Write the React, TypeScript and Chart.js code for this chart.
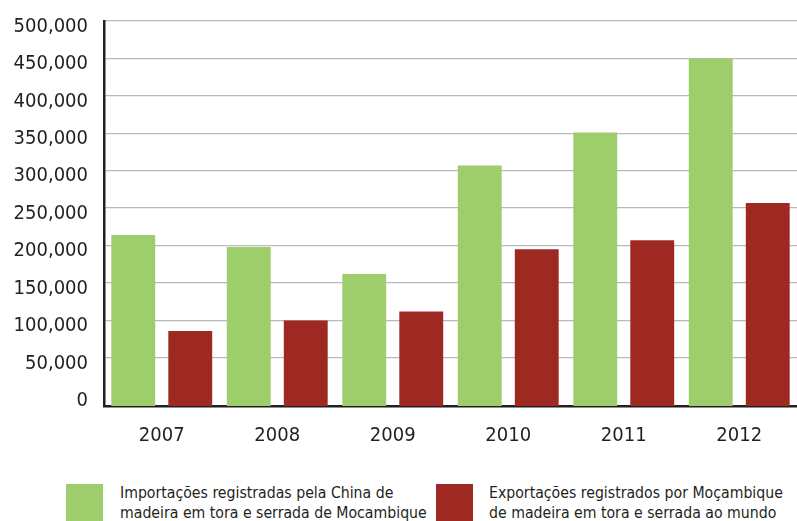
import React, { useEffect, useRef } from "react";
import { Chart, registerables } from "chart.js";

Chart.register(...registerables);

const years = ["2007", "2008", "2009", "2010", "2011", "2012"];
const chinaImports = [214000, 198000, 162000, 307000, 351000, 450000];
const mozambiqueExports = [86000, 100000, 112000, 195000, 207000, 257000];
const yTickValues = [0, 50000, 100000, 150000, 200000, 250000, 300000, 350000, 400000, 450000, 500000];
const seriesLabels = [
  ["Importações registradas pela China de", "madeira em tora e serrada de Mocambique"],
  ["Exportações registrados por Moçambique", "de madeira em tora e serrada ao mundo"],
];
const seriesColors = ["#9ecd6c", "#9e2922"];

const Y_MIN = -14300;
const Y_MAX = 500000;
const FONT = "'DejaVu Sans Condensed', 'DejaVu Sans', sans-serif";
const TEXT = "#231f20";

export default function App() {
  const ref = useRef<HTMLCanvasElement>(null);

  useEffect(() => {
    if (!ref.current) return;
    const chart = new Chart(ref.current, {
      type: "bar",
      data: {
        labels: years,
        datasets: [
          {
            label: seriesLabels[0].join(" "),
            data: chinaImports,
            backgroundColor: seriesColors[0],
            base: Y_MIN,
            borderWidth: 0,
          } as any,
          {
            label: seriesLabels[1].join(" "),
            data: mozambiqueExports,
            backgroundColor: seriesColors[1],
            base: Y_MIN,
            borderWidth: 0,
          } as any,
        ],
      },
      options: {
        animation: false,
        responsive: false,
        maintainAspectRatio: false,
        categoryPercentage: 0.987,
        barPercentage: 0.77,
        layout: { padding: { top: 21, left: 0, right: 0, bottom: 0 } },
        plugins: {
          legend: { display: false },
          tooltip: { enabled: false },
          title: { display: false },
        },
        scales: {
          x: {
            grid: { display: false, drawTicks: false },
            border: { color: TEXT, width: 2.5 },
            ticks: {
              color: TEXT,
              font: { family: FONT, size: 20 },
              padding: 18,
            },
            afterFit: (s: any) => {
              s.height = 465 - 406;
              s.paddingLeft = 0;
              s.paddingRight = 0;
            },
          },
          y: {
            min: Y_MIN,
            max: Y_MAX,
            afterBuildTicks: (s: any) => {
              s.ticks = yTickValues.map((v) => ({ value: v }));
            },
            afterFit: (s: any) => {
              s.width = 104;
              s.paddingTop = 0;
              s.paddingBottom = 0;
            },
            grid: {
              drawTicks: false,
              color: (ctx: any) => (ctx.tick && ctx.tick.value === 0 ? "rgba(0,0,0,0)" : "#b9b9b9"),
              lineWidth: 1.3,
            },
            border: { color: TEXT, width: 2.5 },
            ticks: {
              color: TEXT,
              font: { family: FONT, size: 20 },
              padding: 16,
              labelOffset: 5.5,
              callback: (v: any) => Number(v).toLocaleString("en-US"),
            },
          },
        },
      },
    });
    return () => chart.destroy();
  }, []);

  const legendItem = (i: number, sqLeft: number, textLeft: number) => (
    <React.Fragment key={i}>
      <div
        style={{
          position: "absolute",
          left: sqLeft,
          top: 484,
          width: 37,
          height: 37,
          background: seriesColors[i],
        }}
      />
      <div
        style={{
          position: "absolute",
          left: textLeft,
          top: 483,
          fontFamily: FONT,
          fontSize: 15.7,
          lineHeight: "20px",
          color: TEXT,
          whiteSpace: "nowrap",
        }}
      >
        {seriesLabels[i][0]}
        <br />
        {seriesLabels[i][1]}
      </div>
    </React.Fragment>
  );

  return (
    <div style={{ position: "absolute", left: 0, top: 0, width: 797, height: 521, background: "#fff", overflow: "hidden" }}>
      <canvas ref={ref} width={797} height={465} style={{ position: "absolute", left: 0, top: 0, width: 797, height: 465 }} />
      {legendItem(0, 66, 120)}
      {legendItem(1, 436, 489)}
    </div>
  );
}
